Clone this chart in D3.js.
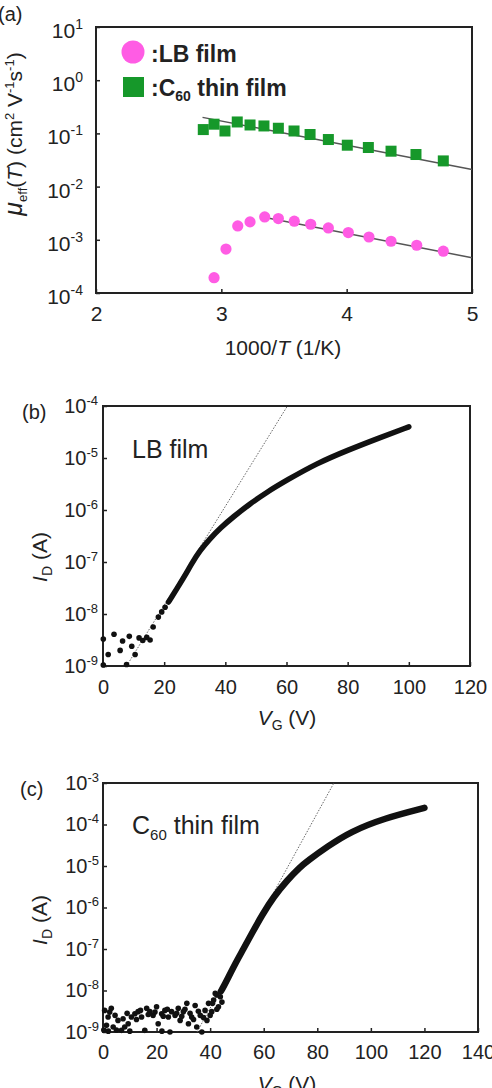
<!DOCTYPE html>
<html>
<head>
<meta charset="utf-8">
<script src="https://cdn.jsdelivr.net/npm/d3@7"></script>
<style>
body { margin: 0; background: #fff; }
svg { display: block; font-family: "Liberation Sans", Arial, sans-serif; }
</style>
</head>
<body>
<div class="graphic"></div>
<script>
// (a) mobility vs 1000/T
var c60InvT = [2.856, 2.942, 3.029, 3.127, 3.229, 3.340, 3.455, 3.580, 3.708, 3.854, 4.005, 4.173, 4.354, 4.553, 4.771];
var c60Mu = [0.118, 0.149, 0.111, 0.164, 0.144, 0.138, 0.125, 0.111, 0.0953, 0.0767, 0.060, 0.0543, 0.0463, 0.0401, 0.0304];
var lbInvT = [2.942, 3.037, 3.131, 3.229, 3.346, 3.455, 3.582, 3.713, 3.854, 4.013, 4.178, 4.354, 4.559, 4.771];
var lbMu = [1.94e-4, 6.7e-4, 1.82e-3, 2.17e-3, 2.69e-3, 2.51e-3, 2.24e-3, 1.96e-3, 1.67e-3, 1.37e-3, 1.13e-3, 9.4e-4, 7.9e-4, 6.1e-4];
var c60FitInvT = [2.85, 5];
var c60FitMu = [0.2, 0.021];
var lbFitInvT = [3.36, 5];
var lbFitMu = [2.6e-3, 4.6e-4];
var invTTicks = [2, 3, 4, 5];
var muTickExps = [-4, -3, -2, -1, 0, 1];

// (b) LB film transfer curve, log10(I_D)
var lbCurveV = [21.4, 22.5, 24.6, 26.8, 29.0, 31.7, 35.0, 38.3, 42.6, 48.1, 53.5, 60, 70, 80, 90, 100];
var lbCurveLogI = [-7.77, -7.67, -7.47, -7.26, -7.03, -6.78, -6.55, -6.35, -6.13, -5.88, -5.66, -5.43, -5.10, -4.85, -4.62, -4.40];
var lbDotsV = [0.1, 1.7, 3.6, 5.6, 6.4, 8.6, 9.4, 10.5, 7.7, 0.1, 11.8, 13.0, 14.3, 15.4, 16.4, 18.1, 19.2, 20.3];
var lbDotsLogI = [-8.48, -8.78, -8.39, -8.70, -8.52, -8.43, -8.62, -8.78, -8.97, -8.98, -8.46, -8.51, -8.45, -8.50, -8.25, -8.06, -7.96, -7.87];
var lbFitV = [7.7, 60.3];
var lbFitLogI = [-9, -4];
var bTicksV = [0, 20, 40, 60, 80, 100, 120];
var bTickExps = [-9, -8, -7, -6, -5, -4];

// (c) C60 thin film transfer curve, log10(I_D)
var c60CurveV = [44.0, 45.0, 46.9, 49.4, 52.5, 55.6, 59.4, 63.7, 68.8, 73.5, 76.3, 83.8, 92.5, 105, 120];
var c60CurveLogI = [-8.02, -7.91, -7.67, -7.35, -6.99, -6.62, -6.18, -5.74, -5.34, -5.03, -4.88, -4.53, -4.17, -3.85, -3.60];
var c60DotsV = [0.6, 1.9, 3.1, 1.3, 3.8, 5.6, 6.9, 8.1, 9.4, 10.6, 11.9, 13.1, 14.4, 15.6, 16.3, 17.5, 18.7, 20.0, 20.6, 21.9,
    23.1, 24.4, 25.0, 25.6, 26.9, 28.1, 28.8, 30.0, 31.3, 31.9, 33.1, 34.4, 35.0, 36.3, 36.9, 38.1, 38.8, 39.4, 40.6, 41.3,
    41.9, 43.1, 43.8, 42.5, 40.9, 2.5, 4.5, 7.5, 9.0, 12.5, 14.0, 16.9, 19.4, 22.5, 24.0, 27.5, 29.4, 30.6, 32.5, 33.8,
    35.6, 37.5, 40.0, 42.5, 44.4, 0.3, 2.0, 5.0, 10.0, 22.0];
var c60DotsLogI = [-8.48, -8.64, -8.43, -8.84, -8.88, -8.72, -8.96, -8.88, -8.80, -8.64, -8.56, -8.51, -8.64, -8.96, -8.43, -8.51, -8.60, -8.39, -8.80, -8.56,
    -8.48, -8.64, -9.0, -8.51, -8.60, -8.43, -8.72, -8.51, -8.31, -8.80, -8.64, -8.36, -8.88, -8.60, -9.0, -8.48, -8.72, -8.31, -8.51, -8.23,
    -8.07, -8.39, -8.15, -8.11, -8.31, -8.52, -8.60, -8.68, -8.55, -8.70, -8.48, -8.58, -8.52, -8.62, -8.45, -8.55, -8.62, -8.45, -8.55, -8.70,
    -8.50, -8.65, -8.60, -8.45, -8.28, -8.95, -8.98, -8.95, -8.98, -8.98];
var c60FitV = [35.1, 86.2];
var c60FitLogI = [-9, -3];
var cTicksV = [0, 20, 40, 60, 80, 100, 120, 140];
var cTickExps = [-9, -8, -7, -6, -5, -4, -3];

var pink = "#ff5ce4";
var green = "#16982a";
var ink = "#222";

var svg = d3.select(".graphic").append("svg").attr("width", 492).attr("height", 1088);

var zip = (a, b) => a.map((v, i) => [v, b[i]]);

function frame(p) {
    var x = d3.scaleLinear().domain(p.xDomain).range([p.left, p.right]);
    var y = d3.scaleLog().domain(p.yDomain).range([p.bottom, p.top]);

    var gx = svg.append("g")
        .attr("transform", `translate(0,${p.bottom})`)
        .call(d3.axisBottom(x).tickValues(p.xTicks).tickFormat(d3.format("d"))
            .tickSizeInner(-4).tickSizeOuter(0).tickPadding(p.xPad));
    gx.select(".domain").remove();
    gx.selectAll("line").attr("stroke", ink).attr("stroke-width", 1.5);
    gx.selectAll("text").attr("font-size", p.tickFont).attr("fill", ink).attr("font-family", null);

    var gy = svg.append("g")
        .attr("transform", `translate(${p.left},0)`)
        .call(d3.axisLeft(y).tickValues(p.yExps.map((e) => Math.pow(10, e))).tickSizeInner(-4).tickSizeOuter(0).tickPadding(p.yPad));
    gy.select(".domain").remove();
    gy.selectAll("line").attr("stroke", ink).attr("stroke-width", 1.5);
    gy.selectAll(".tick text")
        .attr("fill", ink)
        .attr("font-family", null)
        .attr("font-size", p.tickFont)
        .attr("dy", p.yDy)
        .each(function (d) {
            var t = d3.select(this).text(null);
            t.append("tspan").text("10");
            t.append("tspan").attr("dy", -p.supShift).attr("font-size", p.supFont).text(Math.round(Math.log10(d)));
        });

    svg.append("rect")
        .attr("x", p.left).attr("y", p.top)
        .attr("width", p.right - p.left).attr("height", p.bottom - p.top)
        .attr("fill", "none").attr("stroke", ink).attr("stroke-width", 2);

    return { x: x, y: y };
}

// ---------- (a) ----------
var a = frame({
    left: 96, right: 472, top: 27, bottom: 293,
    xDomain: [2, 5], yDomain: [1e-4, 10],
    xTicks: invTTicks, yExps: muTickExps,
    tickFont: 21, supFont: 14, supShift: 9, xPad: 13, yPad: 13, yDy: "0.5em"
});

var fitLine = d3.line().x((d) => a.x(d[0])).y((d) => a.y(d[1]));
svg.append("path").attr("d", fitLine(zip(c60FitInvT, c60FitMu)))
    .attr("fill", "none").attr("stroke", "#555").attr("stroke-width", 1.5);
svg.append("path").attr("d", fitLine(zip(lbFitInvT, lbFitMu)))
    .attr("fill", "none").attr("stroke", "#555").attr("stroke-width", 1.5);

svg.append("g").selectAll("rect")
    .data(zip(c60InvT, c60Mu))
    .join("rect")
    .attr("x", (d) => a.x(d[0]) - 5.5)
    .attr("y", (d) => a.y(d[1]) - 5.5)
    .attr("width", 11).attr("height", 11)
    .attr("fill", green);

svg.append("g").selectAll("circle")
    .data(zip(lbInvT, lbMu))
    .join("circle")
    .attr("cx", (d) => a.x(d[0]))
    .attr("cy", (d) => a.y(d[1]))
    .attr("r", 5.6)
    .attr("fill", pink);

// legend
svg.append("circle").attr("cx", 133).attr("cy", 52).attr("r", 11.5).attr("fill", pink);
svg.append("rect").attr("x", 123).attr("y", 77).attr("width", 21).attr("height", 20).attr("fill", green);
svg.append("text").attr("x", 151).attr("y", 62).attr("font-size", 23).attr("font-weight", "bold").attr("fill", ink)
    .text(":LB film");
var lg = svg.append("text").attr("x", 151).attr("y", 96).attr("font-size", 23).attr("font-weight", "bold").attr("fill", ink);
lg.append("tspan").text(":C");
lg.append("tspan").attr("dy", 5).attr("font-size", 14).text("60");
lg.append("tspan").attr("dy", -5).text(" thin film");

// axis titles (a)
svg.append("text").attr("x", -2).attr("y", 21).attr("font-size", 20).attr("fill", ink).text("(a)");
svg.append("text").attr("x", 283).attr("y", 355).attr("text-anchor", "middle").attr("font-size", 21).attr("fill", ink)
    .call((t) => {
        t.append("tspan").text("1000/");
        t.append("tspan").attr("font-style", "italic").text("T");
        t.append("tspan").text(" (1/K)");
    });
svg.append("text").attr("transform", "translate(22,134) rotate(-90)").attr("text-anchor", "middle")
    .attr("font-size", 21).attr("fill", ink)
    .call((t) => {
        t.append("tspan").attr("font-style", "italic").attr("font-size", 25).text("μ");
        t.append("tspan").attr("dy", 5).attr("font-size", 13).text("eff");
        t.append("tspan").attr("dy", -5).text("(");
        t.append("tspan").attr("font-style", "italic").text("T");
        t.append("tspan").text(") (cm");
        t.append("tspan").attr("dy", -8).attr("font-size", 13).text("2");
        t.append("tspan").attr("dy", 8).text(" V");
        t.append("tspan").attr("dy", -8).attr("font-size", 13).text("-1");
        t.append("tspan").attr("dy", 8).text("s");
        t.append("tspan").attr("dy", -8).attr("font-size", 13).text("-1");
        t.append("tspan").attr("dy", 8).text(")");
    });

// ---------- transfer curve panels ----------
function transferPanel(p, curveV, curveLogI, dotsV, dotsLogI, fitV, fitLogI) {
    var s = frame(p);
    var line = d3.line().x((d) => s.x(d[0])).y((d) => s.y(Math.pow(10, d[1])));

    svg.append("path").attr("d", line(zip(fitV, fitLogI)))
        .attr("fill", "none").attr("stroke", "#666").attr("stroke-width", 1)
        .attr("stroke-dasharray", "1.5,1.5");

    svg.append("g").selectAll("circle")
        .data(zip(dotsV, dotsLogI))
        .join("circle")
        .attr("cx", (d) => s.x(d[0]))
        .attr("cy", (d) => s.y(Math.pow(10, d[1])))
        .attr("r", 2.8)
        .attr("fill", "#111");

    svg.append("path").attr("d", line.curve(d3.curveBasis)(zip(curveV, curveLogI)))
        .attr("fill", "none").attr("stroke", "#111").attr("stroke-width", p.curveWidth)
        .attr("stroke-linecap", "round").attr("stroke-linejoin", "round");

    svg.append("text").attr("x", p.tagX).attr("y", p.top + 13).attr("font-size", 20).attr("fill", ink).text(p.tag);

    var lbl = svg.append("text").attr("x", 132).attr("y", p.labelY).attr("font-size", 25).attr("fill", ink);
    p.label(lbl);

    svg.append("text").attr("x", 287).attr("y", p.bottom + 59).attr("text-anchor", "middle").attr("font-size", 21).attr("fill", ink)
        .call((t) => {
            t.append("tspan").attr("font-style", "italic").text("V");
            t.append("tspan").attr("dy", 5).attr("font-size", 14).text("G");
            t.append("tspan").attr("dy", -5).text(" (V)");
        });

    svg.append("text").attr("transform", `translate(47,${p.yTitleY}) rotate(-90)`).attr("text-anchor", "middle")
        .attr("font-size", 21).attr("fill", ink)
        .call((t) => {
            t.append("tspan").attr("font-style", "italic").text("I");
            t.append("tspan").attr("dy", 5).attr("font-size", 14).text("D");
            t.append("tspan").attr("dy", -5).text(" (A)");
        });
}

transferPanel({
    left: 103, right: 470, top: 406, bottom: 666,
    xDomain: [0, 120], yDomain: [1e-9, 1e-4],
    xTicks: bTicksV, yExps: bTickExps,
    tickFont: 20, supFont: 13, supShift: 8, xPad: 14, yPad: 5, yDy: "0.32em",
    curveWidth: 5.5, tag: "(b)", tagX: 22, labelY: 458, yTitleY: 557,
    label: (t) => t.text("LB film")
}, lbCurveV, lbCurveLogI, lbDotsV, lbDotsLogI, lbFitV, lbFitLogI);

transferPanel({
    left: 103, right: 478, top: 783, bottom: 1032,
    xDomain: [0, 140], yDomain: [1e-9, 1e-3],
    xTicks: cTicksV, yExps: cTickExps,
    tickFont: 20, supFont: 13, supShift: 8, xPad: 13, yPad: 4, yDy: "0.32em",
    curveWidth: 6.5, tag: "(c)", tagX: 20, labelY: 834, yTitleY: 920,
    label: (t) => {
        t.append("tspan").text("C");
        t.append("tspan").attr("dy", 6).attr("font-size", 15).text("60");
        t.append("tspan").attr("dy", -6).text(" thin film");
    }
}, c60CurveV, c60CurveLogI, c60DotsV, c60DotsLogI, c60FitV, c60FitLogI);
</script>
</body>
</html>
